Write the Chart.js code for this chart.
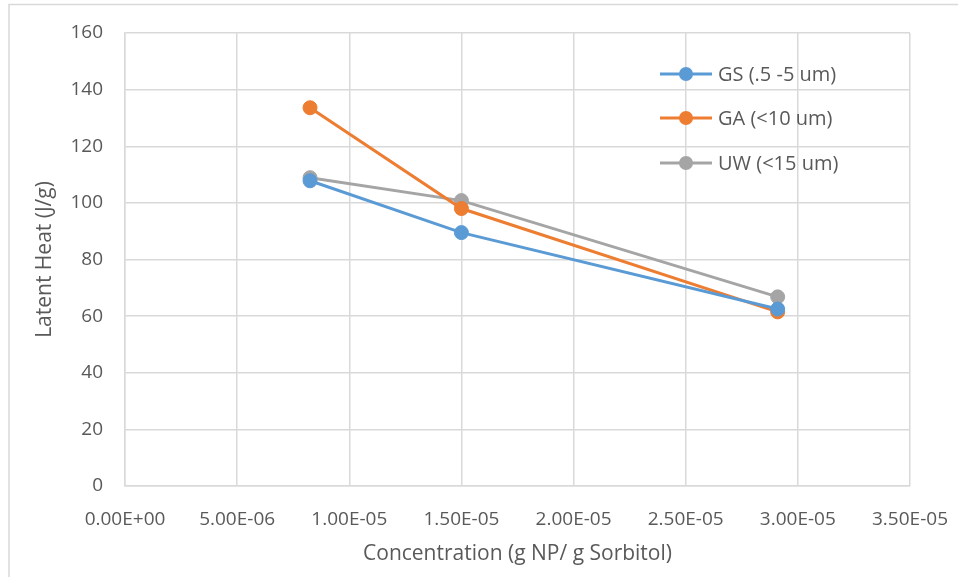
<!DOCTYPE html>
<html>
<head>
<meta charset="utf-8">
<script src="https://cdn.jsdelivr.net/npm/chart.js@4/dist/chart.umd.min.js"></script>
<style>
  html, body { margin: 0; padding: 0; background: #ffffff; }
  #wrap { width: 958px; height: 577px; position: relative; }
</style>
</head>
<body>
<div id="wrap"><canvas id="c" width="958" height="577"></canvas></div>
<script>
// Concentration of nanoparticles (g NP / g Sorbitol)
const concentration = [8.25e-6, 1.5e-5, 2.91e-5];

// Latent heat (J/g) per particle type
const seriesNames = ['GS (.5 -5 um)', 'GA (<10 um)', 'UW (<15 um)'];
const gsHeat = [107.8, 89.5, 62.5];
const gaHeat = [133.6, 98.0, 61.5];
const uwHeat = [108.9, 100.8, 66.8];
const seriesColors = ['#5B9BD5', '#ED7D31', '#A5A5A5'];

const xTicks = [0, 5e-6, 1e-5, 1.5e-5, 2e-5, 2.5e-5, 3e-5, 3.5e-5];
const yTicks = [0, 20, 40, 60, 80, 100, 120, 140, 160];

const FONT = "'Open Sans', 'Noto Sans', sans-serif";
const TEXT = '#595959';
const GRID = '#D9D9D9';

function toPoints(ys) {
  return concentration.map((x, i) => ({ x: x, y: ys[i] }));
}

const allSeries = [gsHeat, gaHeat, uwHeat];
const datasets = allSeries.map((ys, i) => ({
  label: seriesNames[i],
  data: toPoints(ys),
  showLine: true,
  borderColor: seriesColors[i],
  backgroundColor: seriesColors[i],
  pointBackgroundColor: seriesColors[i],
  pointBorderColor: seriesColors[i],
  borderWidth: 3,
  pointRadius: 7,
  pointHoverRadius: 7,
  pointBorderWidth: 1,
  tension: 0
}));

// Light frame around the whole chart area
const framePlugin = {
  id: 'frame',
  beforeDraw(chart) {
    const ctx = chart.ctx;
    ctx.save();
    ctx.fillStyle = '#ffffff';
    ctx.fillRect(0, 0, chart.width, chart.height);
    ctx.strokeStyle = '#D9D9D9';
    ctx.lineWidth = 1.5;
    ctx.beginPath();
    ctx.moveTo(9, chart.height);
    ctx.lineTo(9, 4.5);
    ctx.lineTo(chart.width, 4.5);
    ctx.stroke();
    ctx.restore();
  }
};

// Legend with line-and-marker swatches placed inside the plot
const lineLegendPlugin = {
  id: 'lineLegend',
  afterDatasetsDraw(chart) {
    const ctx = chart.ctx;
    const x0 = 660, x1 = 712, tx = 718;
    const ys = [74, 118, 163];
    ctx.save();
    chart.data.datasets.forEach((ds, i) => {
      const y = ys[i];
      ctx.strokeStyle = ds.borderColor;
      ctx.lineWidth = 3;
      ctx.beginPath();
      ctx.moveTo(x0, y);
      ctx.lineTo(x1, y);
      ctx.stroke();
      ctx.fillStyle = ds.borderColor;
      ctx.beginPath();
      ctx.arc((x0 + x1) / 2, y, 7, 0, Math.PI * 2);
      ctx.fill();
      ctx.fillStyle = TEXT;
      ctx.font = '20px ' + FONT;
      ctx.textBaseline = 'middle';
      ctx.textAlign = 'left';
      ctx.fillText(ds.label, tx, y + 1);
    });
    ctx.restore();
  }
};

new Chart(document.getElementById('c'), {
  type: 'scatter',
  data: { datasets: datasets },
  options: {
    responsive: false,
    animation: false,
    events: [],
    layout: { padding: { top: 33, right: 48, bottom: 0, left: 0 } },
    plugins: {
      legend: { display: false },
      tooltip: { enabled: false }
    },
    scales: {
      x: {
        type: 'linear',
        min: 0,
        max: 3.5e-5,
        afterBuildTicks(scale) { scale.ticks = xTicks.map(v => ({ value: v })); },
        afterFit(scale) {
          scale.height = 91;
          scale.paddingLeft = 0;
          scale.paddingRight = 0;
        },
        grid: { color: GRID, lineWidth: 1.5, drawTicks: false },
        border: { color: GRID, width: 1.5 },
        ticks: {
          color: TEXT,
          font: { family: FONT, size: 19 },
          padding: 22,
          maxRotation: 0,
          autoSkip: false,
          callback: v => {
            if (v === 0) return '0.00E+00';
            const exp = Math.floor(Math.log10(v) + 1e-9);
            const m = v / Math.pow(10, exp);
            const sign = exp < 0 ? '-' : '+';
            return m.toFixed(2) + 'E' + sign + String(Math.abs(exp)).padStart(2, '0');
          }
        },
        title: {
          display: true,
          text: 'Concentration (g NP/ g Sorbitol)',
          color: TEXT,
          font: { family: FONT, size: 21 },
          padding: { top: 0, bottom: 10 }
        }
      },
      y: {
        min: 0,
        max: 160,
        afterBuildTicks(scale) { scale.ticks = yTicks.map(v => ({ value: v })); },
        afterFit(scale) {
          scale.width = 125;
          scale.paddingTop = 0;
          scale.paddingBottom = 0;
        },
        grid: { color: GRID, lineWidth: 1.5, drawTicks: false },
        border: { color: GRID, width: 1.5 },
        ticks: {
          color: TEXT,
          font: { family: FONT, size: 19 },
          padding: 22
        },
        title: {
          display: true,
          text: 'Latent Heat (J/g)',
          color: TEXT,
          font: { family: FONT, size: 21 },
          padding: { top: 32, bottom: 0 }
        }
      }
    }
  },
  plugins: [framePlugin, lineLegendPlugin]
});
</script>
</body>
</html>
